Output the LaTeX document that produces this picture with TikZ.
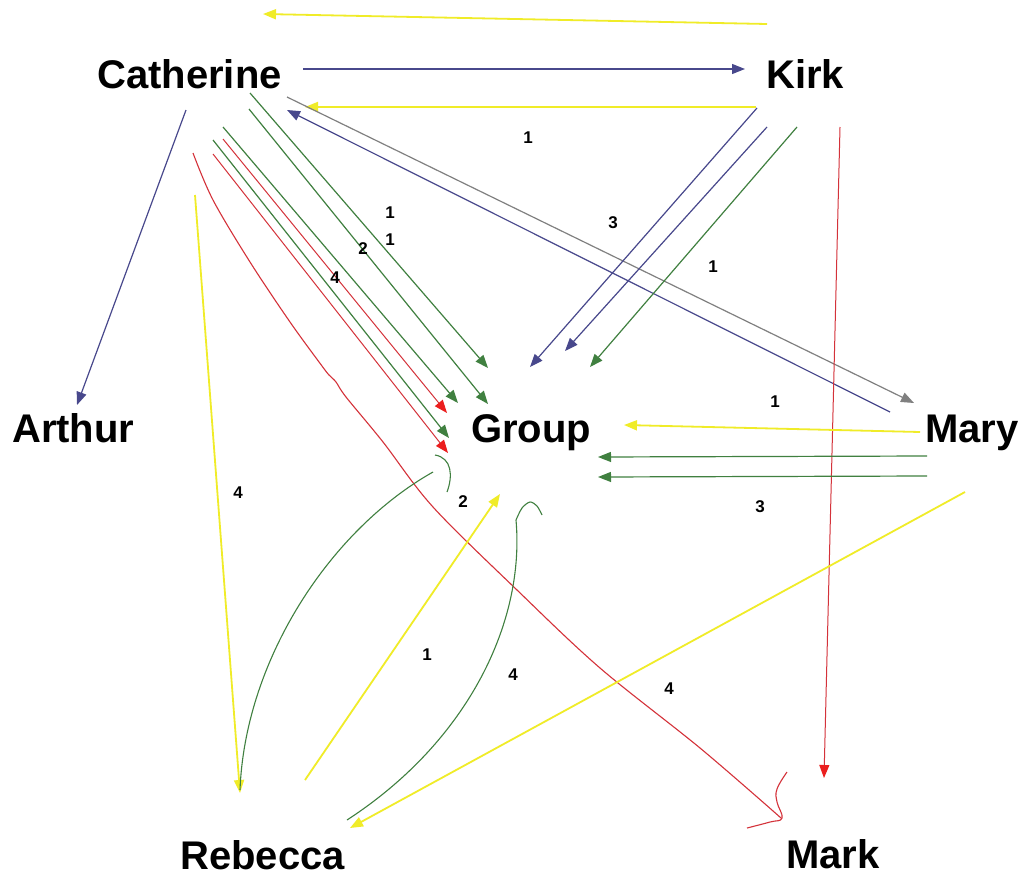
\documentclass[tikz,border=0pt]{standalone}
\usepackage{fontspec}
\setmainfont{Liberation Sans}
\usetikzlibrary{arrows.meta}
\definecolor{slate}{RGB}{72,72,140}
\definecolor{grn}{RGB}{64,128,64}
\definecolor{rd}{RGB}{212,50,58}
\definecolor{rdtip}{RGB}{235,30,30}
\definecolor{ylw}{RGB}{240,236,40}
\definecolor{gry}{RGB}{128,128,128}
\begin{document}
\begin{tikzpicture}[x=1pt,y=-1pt,
  person/.style={font=\fontsize{40}{40}\selectfont\bfseries, inner sep=0pt, anchor=base west},
  num/.style={font=\fontsize{17}{17}\selectfont\bfseries, inner sep=0pt},
  tipped/.style={-{Triangle[length=13pt,width=10pt]}},
  bluel/.style={slate, line width=1.2pt, tipped},
  greenl/.style={grn, line width=1.2pt, tipped},
  yell/.style={ylw, line width=1.8pt, tipped},
  redl/.style={rd, line width=1pt, -{Triangle[length=13pt,width=10pt,fill=rdtip,color=rdtip]}},
  grayl/.style={gry, line width=1.2pt, tipped},
  freehand/.style={line width=1.1pt}
]
\useasboundingbox (0,0) rectangle (1027,878);
\fill[white] (0,0) rectangle (1027,878);

% people
\node[person] (cat) at (97,88) {Catherine};
\node[person] (kirk) at (766,88) {Kirk};
\node[person] (art) at (12,442) {Arthur};
\node[person] (grp) at (471,442) {Group};
\node[person] (mary) at (925,442) {Mary};
\node[person] (reb) at (180,869) {Rebecca};
\node[person] (mark) at (786,868) {Mark};

% end points
\coordinate (k0) at (767,24);  \coordinate (c0) at (263,14);
\coordinate (c1) at (303,69);  \coordinate (k1) at (745,69);
\coordinate (k2) at (756,107); \coordinate (c2) at (305,107);
\coordinate (m1) at (890,412); \coordinate (c3) at (287,110);
\coordinate (c4) at (287,97);  \coordinate (m2) at (914,403);
\coordinate (c5) at (186,110); \coordinate (a1) at (77,405);
\coordinate (c6) at (250,93);  \coordinate (g1) at (488,368);
\coordinate (c7) at (249,109); \coordinate (g2) at (488,404);
\coordinate (c8) at (223,127); \coordinate (g3) at (458,403);
\coordinate (c9) at (223,139); \coordinate (g4) at (447,413);
\coordinate (c10) at (213,140); \coordinate (g5) at (449,438);
\coordinate (c11) at (213,154); \coordinate (g6) at (448,453);
\coordinate (c13) at (195,195); \coordinate (r1) at (240,793);
\coordinate (k3) at (757,108); \coordinate (g7) at (530,367);
\coordinate (k4) at (767,127); \coordinate (g8) at (565,351);
\coordinate (k5) at (797,127); \coordinate (g9) at (590,367);
\coordinate (k6) at (840,127); \coordinate (mk1) at (824,778);
\coordinate (m3) at (920,432); \coordinate (g10) at (624,425);
\coordinate (m4) at (927,456); \coordinate (g11) at (598,457);
\coordinate (m5) at (927,476); \coordinate (g12) at (598,477);
\coordinate (m6) at (965,492); \coordinate (r2) at (350,828);
\coordinate (r3) at (305,780); \coordinate (g13) at (500,494);
\coordinate (r4) at (240,790); \coordinate (g14) at (433,472);
\coordinate (r5) at (347,820); \coordinate (g16) at (516,520);

% top connectors
\draw[yell] (k0) -- (c0);
\draw[bluel] (c1) -- (k1);
\draw[yell] (k2) -- (c2);
\draw[bluel] (m1) -- (c3);
\draw[grayl] (c4) -- (m2);
\draw[bluel] (c5) -- (a1);

% Catherine to Group
\draw[greenl] (c6) -- (g1);
\draw[greenl] (c7) -- (g2);
\draw[greenl] (c8) -- (g3);
\draw[redl] (c9) -- (g4);
\draw[greenl] (c10) -- (g5);
\draw[redl] (c11) -- (g6);

% Catherine to Mark (freehand red)
\draw[rd, freehand] plot[smooth, tension=0.55] coordinates {(193,153) (213,200) (250,262) (290,322) (322,366) (329,375) (336,382) (346,397) (383,442) (433,507) (517,590) (600,668) (700,748) (781,818)};
\draw[rd, freehand] plot[smooth, tension=0.7] coordinates {(747,828) (770,822) (782,818) (777,802) (777,789) (787,772)};

% Catherine to Rebecca
\draw[yell] (c13) -- (r1);

% Kirk to Group and Mark
\draw[bluel] (k3) -- (g7);
\draw[bluel] (k4) -- (g8);
\draw[greenl] (k5) -- (g9);
\draw[redl] (k6) -- (mk1);

% Mary
\draw[yell] (m3) -- (g10);
\draw[greenl] (m4) -- (g11);
\draw[greenl] (m5) -- (g12);
\draw[yell] (m6) -- (r2);

% Rebecca to Group
\draw[yell] (r3) -- (g13);
\draw[grn, freehand] (r4) .. controls (245,660) and (330,530) .. (g14);
\draw[grn, freehand] (435,455) .. controls (452,458) and (453,476) .. (447,492);
\draw[grn, freehand] (r5) .. controls (470,740) and (525,620) .. (g16);
\draw[grn, freehand] plot[smooth, tension=0.5] coordinates {(516,520) (522,508) (530,502) (537,506) (542,515)};

% numbers
\node[num] (n1) at (528,138) {1};
\node[num] (n2) at (390,213) {1};
\node[num] (n3) at (390,240) {1};
\node[num] (n4) at (363,249) {2};
\node[num] (n5) at (335,278) {4};
\node[num] (n6) at (613,223) {3};
\node[num] (n7) at (713,267) {1};
\node[num] (n8) at (775,402) {1};
\node[num] (n9) at (760,507) {3};
\node[num] (n10) at (463,502) {2};
\node[num] (n11) at (427,655) {1};
\node[num] (n12) at (513,675) {4};
\node[num] (n13) at (669,689) {4};
\node[num] (n14) at (238,493) {4};
\end{tikzpicture}
\end{document}
